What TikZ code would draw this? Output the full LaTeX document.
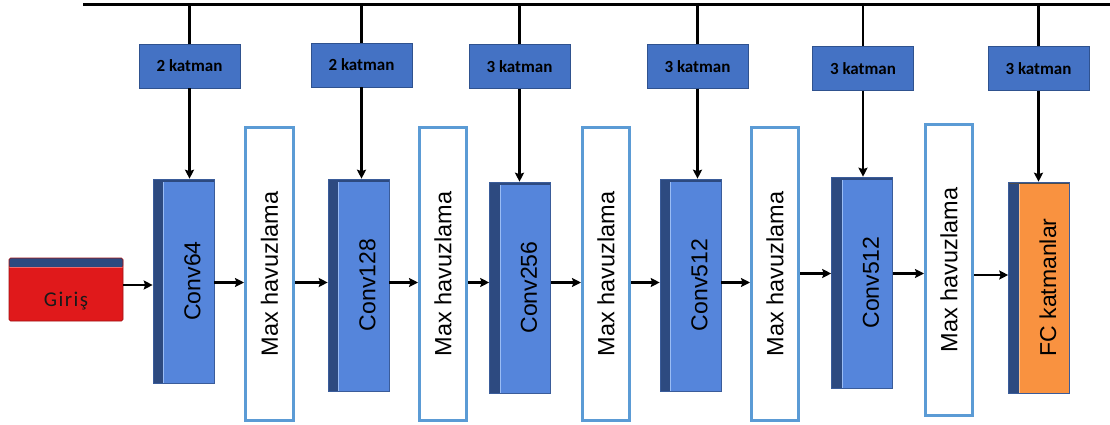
\documentclass[tikz,border=0pt]{standalone}
\usepackage{graphicx}
\usepackage{fontspec}
\usetikzlibrary{arrows.meta}
\newfontfamily\arialf{Liberation Sans}
\newfontfamily\calf{Carlito}
\newfontfamily\girisf[LetterSpace=7]{Carlito}
\definecolor{convblue}{HTML}{5585DB}
\definecolor{convside}{HTML}{2D4A80}
\definecolor{convlight}{HTML}{9ABCF4}
\definecolor{convedge}{HTML}{3A5C9A}
\definecolor{katfill}{HTML}{4472C4}
\definecolor{katedge}{HTML}{2F528F}
\definecolor{poolblue}{HTML}{5B9BD5}
\definecolor{fcorange}{HTML}{F99240}
\definecolor{fclight}{HTML}{FFC28E}
\definecolor{girisred}{HTML}{E0191B}
\definecolor{girislight}{HTML}{F26A6A}
% vertical label, pushed right of the block's dark side face
\newcommand\sidetext[1]{\hspace*{18pt}\rotatebox{90}{#1}}

\begin{document}
\begin{tikzpicture}[x=1pt,y=-1pt,
  wire/.style={line width=2.6pt},
  arr/.style={line width=2.4pt, -{Stealth[length=9pt,width=9pt,inset=1.5pt]}},
  katbox/.style={draw=katedge, fill=katfill, line width=0.8pt,
    minimum width=101pt, minimum height=44pt, inner sep=0pt,
    font=\calf\bfseries\fontsize{17}{17}\selectfont},
  poolbox/.style={draw=poolblue, fill=white, line width=3pt,
    minimum width=48pt, minimum height=293pt, inner sep=0pt,
    font=\arialf\fontsize{23.5}{23.5}\selectfont},
  blockbase/.style={draw=convedge, line width=0.6pt, minimum width=61pt,
    inner sep=0pt, font=\arialf\fontsize{23}{23}\selectfont},
  conv/.style={blockbase, fill=convblue, path picture={
    \fill[convside] (path picture bounding box.north west) rectangle
      ([xshift=10pt]path picture bounding box.south west);
    \fill[convside] (path picture bounding box.north west) rectangle
      ([yshift=-3pt]path picture bounding box.north east);
    \draw[convlight, line width=1.2pt]
      ([xshift=10.6pt,yshift=-3pt]path picture bounding box.north west) --
      ([xshift=10.6pt]path picture bounding box.south west);
  }},
  fcblock/.style={blockbase, fill=fcorange, path picture={
    \fill[convside] (path picture bounding box.north west) rectangle
      ([xshift=10pt]path picture bounding box.south west);
    \fill[black!70] (path picture bounding box.north west) rectangle
      ([yshift=-2pt]path picture bounding box.north east);
    \draw[fclight, line width=1.2pt]
      ([xshift=10.6pt,yshift=-2pt]path picture bounding box.north west) --
      ([xshift=10.6pt]path picture bounding box.south west);
  }},
  giris/.style={draw=girisred!70!black, line width=0.6pt, fill=girisred,
    rounded corners=1.5pt, minimum width=114pt, minimum height=63pt,
    inner sep=0pt, text height=33pt, text depth=0pt, text=black!90,
    font=\girisf\fontsize{21}{21}\selectfont, path picture={
    \fill[convside] (path picture bounding box.north west) rectangle
      ([yshift=-9pt]path picture bounding box.north east);
    \draw[girislight, line width=1.2pt]
      ([yshift=-9.6pt]path picture bounding box.north west) --
      ([yshift=-9.6pt]path picture bounding box.north east);
  }},
]
\useasboundingbox (0,0) rectangle (1110,425);

% input block
\node[giris] (g) at (66,289.5) {Giriş};

% convolution blocks
\node[conv, minimum height=204pt] (c1) at (183.5,281)   {\sidetext{Conv64}};
\node[conv, minimum height=212pt] (c2) at (358.5,285)   {\sidetext{Conv128}};
\node[conv, minimum height=211pt] (c3) at (520,287.5)   {\sidetext{Conv256}};
\node[conv, minimum height=212pt] (c4) at (690.5,285)   {\sidetext{Conv512}};
\node[conv, minimum height=211pt] (c5) at (862,282.5)   {\sidetext{Conv512}};
\node[fcblock, minimum height=211pt] (fc) at (1039,287.5) {\sidetext{FC katmanlar}};

% pooling blocks
\node[poolbox] (m1) at (269.5,274) {\rotatebox{90}{Max havuzlama}};
\node[poolbox, minimum width=47pt] (m2) at (443,274) {\rotatebox{90}{Max havuzlama}};
\node[poolbox, minimum width=47pt] (m3) at (606,274) {\rotatebox{90}{Max havuzlama}};
\node[poolbox, minimum width=47pt] (m4) at (775,274) {\rotatebox{90}{Max havuzlama}};
\node[poolbox, minimum width=47pt, minimum height=291pt] (m5) at (949,270) {\rotatebox{90}{Max havuzlama}};

% layer-count boxes
\node[katbox] (k1) at (189.5,66)   {2 katman};
\node[katbox] (k2) at (361.5,65)   {2 katman};
\node[katbox] (k3) at (519.5,66.5) {3 katman};
\node[katbox] (k4) at (697.5,66.5) {3 katman};
\node[katbox] (k5) at (863,68.5)   {3 katman};
\node[katbox] (k6) at (1038.5,68.5) {3 katman};

% top bus and drops
\coordinate (tl) at (83,5);
\coordinate (tr) at (1110,5);
\draw[line width=3pt] (tl) -- (tr);
\foreach \k/\c in {k1/c1,k2/c2,k3/c3,k4/c4,k5/c5,k6/fc}{
  \draw[wire] (\k.north |- tl) -- (\k.north);
  \draw[arr] (\k.south) -- (\k.south |- \c.north);
}

% data flow
\coordinate (r1) at (0,285);
\coordinate (r2) at (0,282.5);
\coordinate (r3) at (0,273.5);
\coordinate (r4) at (0,275);
\draw[arr] (g.east |- r1) -- (c1.west |- r1);
\draw[arr] (c1.east |- r2) -- (m1.west |- r2);
\draw[arr] (m1.east |- r2) -- (c2.west |- r2);
\draw[arr] (c2.east |- r2) -- (m2.west |- r2);
\draw[arr] (m2.east |- r2) -- (c3.west |- r2);
\draw[arr] (c3.east |- r2) -- (m3.west |- r2);
\draw[arr] (m3.east |- r2) -- (c4.west |- r2);
\draw[arr] (c4.east |- r2) -- (m4.west |- r2);
\draw[arr] (m4.east |- r3) -- (c5.west |- r3);
\draw[arr] (c5.east |- r3) -- (m5.west |- r3);
\draw[arr] (m5.east |- r4) -- (fc.west |- r4);
\end{tikzpicture}
\end{document}
